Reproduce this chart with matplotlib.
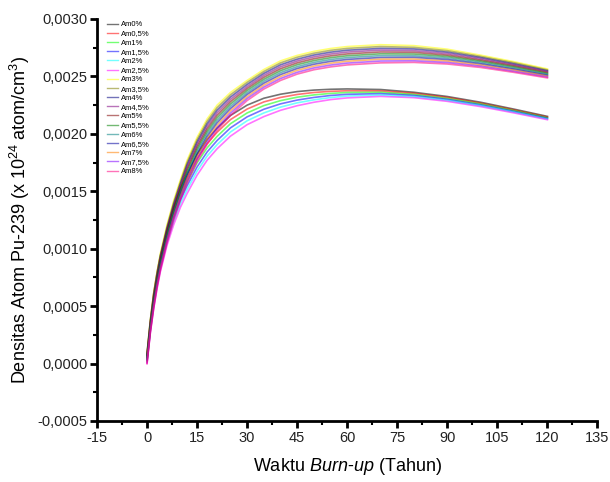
# -*- coding: utf-8 -*-

import matplotlib
matplotlib.use('Agg')
import matplotlib.pyplot as plt
from matplotlib.ticker import MultipleLocator, FuncFormatter

plt.rcParams['font.family'] = ['Liberation Sans', 'DejaVu Sans']
plt.rcParams['mathtext.fontset'] = 'custom'
plt.rcParams['mathtext.rm'] = 'Liberation Sans'
plt.rcParams['mathtext.it'] = 'Liberation Sans:italic'
plt.rcParams['mathtext.default'] = 'regular'

# Burn-up time (years)
years = [0, 1, 2, 3, 4, 6, 8, 10, 12, 15, 18, 21, 25, 30, 35, 40, 45, 50, 55, 60, 70, 80, 90, 100, 110, 120]

# Pu-239 density, in units of 1e-6 (x 10^24 atom/cm^3)
am0 = [90, 380, 610, 790, 940, 1170, 1360, 1520, 1650, 1820, 1950, 2050, 2160, 2250, 2310, 2345, 2368, 2381, 2388, 2391, 2386, 2362, 2325, 2275, 2215, 2152]
am0_5 = [72, 358, 584, 762, 912, 1142, 1330, 1488, 1616, 1784, 1914, 2014, 2124, 2216, 2278, 2317, 2343, 2360, 2370, 2375, 2374, 2353, 2317, 2267, 2208, 2146]
am1 = [54, 336, 558, 734, 884, 1114, 1300, 1456, 1582, 1748, 1878, 1978, 2088, 2182, 2246, 2289, 2319, 2339, 2352, 2360, 2362, 2343, 2308, 2260, 2202, 2140]
am1_5 = [36, 314, 532, 706, 856, 1086, 1270, 1424, 1548, 1712, 1842, 1942, 2052, 2148, 2214, 2261, 2294, 2317, 2334, 2344, 2350, 2334, 2300, 2252, 2195, 2135]
am2 = [18, 292, 506, 678, 828, 1058, 1240, 1392, 1514, 1676, 1806, 1906, 2016, 2114, 2182, 2233, 2270, 2296, 2316, 2329, 2338, 2324, 2291, 2245, 2189, 2129]
am2_5 = [0, 270, 480, 650, 800, 1030, 1210, 1360, 1480, 1640, 1770, 1870, 1980, 2080, 2150, 2205, 2245, 2275, 2298, 2313, 2326, 2315, 2283, 2237, 2182, 2123]
am3 = [90, 380, 620, 800, 960, 1210, 1420, 1600, 1770, 1970, 2130, 2250, 2360, 2465, 2560, 2635, 2683, 2718, 2743, 2760, 2776, 2768, 2737, 2685, 2628, 2565]
am3_5 = [81, 369, 606, 786, 945, 1194, 1403, 1582, 1750, 1949, 2108, 2228, 2340, 2448, 2543, 2618, 2667, 2702, 2727, 2744, 2760, 2753, 2724, 2674, 2619, 2557]
am4 = [72, 358, 592, 772, 930, 1178, 1386, 1564, 1730, 1928, 2086, 2206, 2320, 2430, 2526, 2601, 2650, 2686, 2711, 2728, 2744, 2739, 2711, 2664, 2609, 2549]
am4_5 = [63, 347, 578, 758, 915, 1162, 1369, 1546, 1710, 1907, 2064, 2184, 2300, 2412, 2509, 2584, 2634, 2670, 2695, 2712, 2729, 2724, 2698, 2653, 2600, 2542]
am5 = [54, 336, 564, 744, 900, 1146, 1352, 1528, 1690, 1886, 2042, 2162, 2280, 2395, 2492, 2567, 2618, 2654, 2679, 2696, 2713, 2710, 2685, 2642, 2591, 2534]
am5_5 = [45, 325, 550, 730, 885, 1130, 1335, 1510, 1670, 1865, 2020, 2140, 2260, 2378, 2475, 2550, 2602, 2638, 2663, 2680, 2697, 2695, 2673, 2632, 2582, 2526]
am6 = [36, 314, 536, 716, 870, 1114, 1318, 1492, 1650, 1844, 1998, 2118, 2240, 2360, 2458, 2533, 2585, 2622, 2647, 2664, 2681, 2680, 2660, 2621, 2572, 2518]
am6_5 = [27, 303, 522, 702, 855, 1098, 1301, 1474, 1630, 1823, 1976, 2096, 2220, 2343, 2441, 2516, 2569, 2606, 2631, 2648, 2665, 2666, 2647, 2610, 2563, 2510]
am7 = [18, 292, 508, 688, 840, 1082, 1284, 1456, 1610, 1802, 1954, 2074, 2200, 2325, 2424, 2499, 2553, 2590, 2615, 2632, 2650, 2651, 2634, 2599, 2554, 2503]
am7_5 = [9, 281, 494, 674, 825, 1066, 1267, 1438, 1590, 1781, 1932, 2052, 2180, 2308, 2407, 2482, 2536, 2574, 2599, 2616, 2634, 2636, 2621, 2589, 2544, 2495]
am8 = [0, 270, 480, 660, 810, 1050, 1250, 1420, 1570, 1760, 1910, 2030, 2160, 2290, 2390, 2465, 2520, 2558, 2583, 2600, 2618, 2622, 2608, 2578, 2535, 2487]

labels = ['Am0%', 'Am0,5%', 'Am1%', 'Am1,5%', 'Am2%', 'Am2,5%', 'Am3%', 'Am3,5%', 'Am4%',
          'Am4,5%', 'Am5%', 'Am5,5%', 'Am6%', 'Am6,5%', 'Am7%', 'Am7,5%', 'Am8%']
series = [am0, am0_5, am1, am1_5, am2, am2_5, am3, am3_5, am4,
          am4_5, am5, am5_5, am6, am6_5, am7, am7_5, am8]
colors = ['#000000', '#ff0000', '#00ff00', '#0000ff', '#00ffff', '#ff00ff', '#ffff00', '#808000', '#000080',
          '#800080', '#800000', '#008000', '#008080', '#0000a0', '#ff8000', '#8000ff', '#ff0080']

fig = plt.figure(figsize=(6.1, 4.82), dpi=100)
ax = fig.add_axes([0.159, 0.1266, 0.8205, 0.834])

for lab, ys, c in zip(labels, series, colors):
    ax.plot(years, [v * 1e-6 for v in ys], color=c, lw=1.2, alpha=0.55, label=lab)

# Origin-like axes: only left and bottom
ax.spines['top'].set_visible(False)
ax.spines['right'].set_visible(False)
ax.spines['left'].set_linewidth(2)
ax.spines['bottom'].set_linewidth(2)

ax.set_xlim(-15, 135)
ax.set_ylim(-0.0005, 0.0030)
ax.xaxis.set_major_locator(MultipleLocator(15))
ax.xaxis.set_minor_locator(MultipleLocator(7.5))
ax.yaxis.set_major_locator(MultipleLocator(0.0005))
ax.yaxis.set_minor_locator(MultipleLocator(0.00025))
ax.yaxis.set_major_formatter(FuncFormatter(lambda v, p: '{:.4f}'.format(v).replace('.', ',').replace('-0,0000', '0,0000')))
ax.xaxis.set_major_formatter(FuncFormatter(lambda v, p: '{:d}'.format(int(round(v)))))
ax.tick_params(which='major', direction='out', length=5, width=2, labelsize=10.5, colors='black', pad=2)
ax.tick_params(which='minor', direction='out', length=3, width=1.5)
for lbl in ax.get_xticklabels() + ax.get_yticklabels():
    lbl.set_color('#222222')

ax.set_xlabel('Waktu $\\it{Burn}$-$\\it{up}$ (Tahun)', fontsize=13, labelpad=8)
ax.set_ylabel('Densitas Atom Pu-239 (x 10$^{24}$ atom/cm$^{3}$)', fontsize=13, labelpad=4)

leg = ax.legend(loc='upper left', bbox_to_anchor=(0.02, 0.995), frameon=False, fontsize=5.5,
                labelspacing=0.24, handlelength=1.5, handletextpad=0.3, borderpad=0, borderaxespad=0)
for line in leg.get_lines():
    line.set_linewidth(1.0)

fig.savefig('out.png', dpi=100)
